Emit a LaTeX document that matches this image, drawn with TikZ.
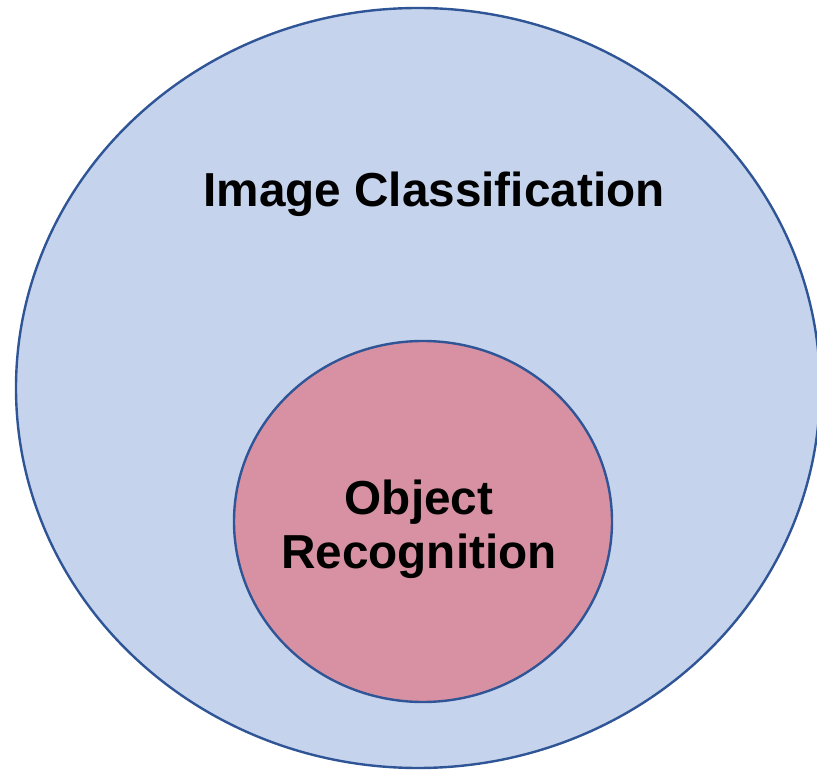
\documentclass[tikz,border=0pt]{standalone}
\usepackage{fontspec}
\setmainfont{Liberation Sans}
\usetikzlibrary{shapes.geometric}
\definecolor{outerfill}{HTML}{C5D4EC}
\definecolor{edgeblue}{HTML}{2F5597}
\definecolor{innerfill}{HTML}{D891A3}
\tikzset{
  setshape/.style={ellipse, draw=edgeblue, line width=2.4pt, inner sep=0pt},
  setlabel/.style={font=\fontsize{47.7}{54}\selectfont\bfseries, align=center, inner sep=0pt}
}
\begin{document}
\begin{tikzpicture}[x=1pt,y=1pt]
\useasboundingbox (0,0) rectangle (817,769);
\clip (0,0) rectangle (817,769);
\node[setshape, fill=outerfill, minimum width=804pt, minimum height=760pt] (outer) at (418,381) {};
\node[setshape, fill=innerfill, minimum width=378pt, minimum height=361pt] (inner) at (423,247.5) {};
\node[setlabel, anchor=base] (outerlabel) at (434,562) {Image Classification};
\node[setlabel, anchor=center] (innerlabel) at (419,240) {Object\\Recognition};
\end{tikzpicture}
\end{document}
